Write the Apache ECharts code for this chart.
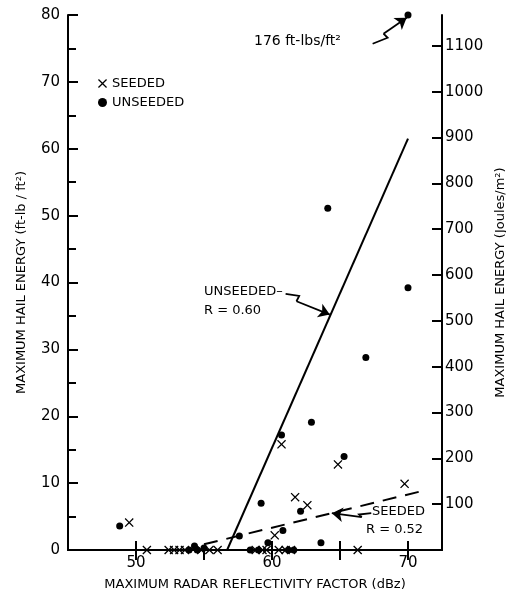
<!DOCTYPE html>
<html>
<head>
<meta charset="utf-8">
<script src="https://cdn.jsdelivr.net/npm/echarts@6/dist/echarts.min.js"></script>
<style>
html,body{margin:0;padding:0;background:#fff;}
#c{width:506px;height:593px;}
</style>
</head>
<body>
<div id="c"></div>
<script>
// ---- data ----
const seededX = [49.5, 60.7, 64.85, 69.75, 61.7, 62.6, 60.2, 50.8, 52.4, 52.8, 53.2, 53.6, 54.8, 55.4, 56.0, 58.8, 59.3, 59.6, 60.5, 61.0, 61.4, 66.3];
const seededY = [4.1, 15.8, 12.8, 9.9, 7.9, 6.7, 2.2, 0, 0, 0, 0, 0, 0, 0, 0, 0, 0, 0, 0, 0, 0, 0];
// the point at (70, 80) is the 176 ft-lbs/ft2 case drawn at the top edge
const unseededX = [70, 64.1, 70, 66.9, 62.9, 60.7, 65.3, 59.2, 62.1, 48.8, 57.6, 60.8, 63.6, 59.7, 54.3, 55.0, 53.9, 54.5, 58.4, 59.0, 61.2, 61.6];
const unseededY = [80, 51.1, 39.2, 28.8, 19.1, 17.2, 14.0, 7.0, 5.8, 3.6, 2.1, 2.9, 1.1, 1.1, 0.6, 0.3, 0, 0, 0, 0, 0, 0];
// regression lines (end points)
const unseededFitX = [56.7, 70];
const unseededFitY = [0, 61.5];
const seededFitX = [55.0, 71.0];
const seededFitY = [0.85, 8.8];
// tick labels
const xLabelTicks = [50, 60, 70];
const xBottomTicks = [50, 60, 65, 70];
const xTopTicks = [50, 55, 60, 65, 70];
const joulesTicks = [100, 200, 300, 400, 500, 600, 700, 800, 900, 1000, 1100];
const FT_TO_J = 14.5939;
// annotation pointers (data coords): zigzag part, then the arrow leg
const zig176 = [[67.4, 75.7], [68.5, 76.6], [68.2, 77.2]];
const leg176 = [[68.2, 77.2], [69.9, 79.6]];
const zigUnseeded = [[61.0, 38.3], [62.0, 38.0], [61.8, 37.2]];
const legUnseeded = [[61.8, 37.2], [64.25, 35.2]];
const zigSeeded = [[67.3, 5.5], [66.4, 5.3], [66.6, 4.9]];
const legSeeded = [[66.6, 4.9], [64.4, 5.5]];

const F = 'DejaVu Sans';
const xPath = 'path://M0,1L1,0L5,4L9,0L10,1L6,5L10,9L9,10L5,6L1,10L0,9L4,5Z';
const zip = (a, b) => a.map((v, i) => [v, b[i]]);

const chart = echarts.init(document.getElementById('c'));
const axisLine = {show: true, lineStyle: {color: '#000', width: 2}};
chart.setOption({
  animation: false,
  backgroundColor: '#fff',
  grid: {left: 68, right: 64, top: 15, bottom: 43, containLabel: false, outerBoundsMode: 'none'},
  legend: {
    orient: 'vertical', left: 93, top: 72, itemGap: 6, itemWidth: 9, itemHeight: 9,
    textStyle: {fontFamily: F, fontSize: 13, color: '#000'},
    data: [
      {name: 'SEEDED', icon: xPath},
      {name: 'UNSEEDED', icon: 'circle'}
    ]
  },
  xAxis: [{
    type: 'value', min: 45, max: 72.5, position: 'bottom',
    name: 'MAXIMUM RADAR REFLECTIVITY FACTOR (dBz)', nameLocation: 'middle', nameGap: 28,
    nameTextStyle: {fontFamily: F, fontSize: 13, color: '#000'},
    axisLine: axisLine,
    axisTick: {show: true, inside: true, length: 9, customValues: xBottomTicks, lineStyle: {color: '#000', width: 2}},
    axisLabel: {customValues: xLabelTicks, fontFamily: F, fontSize: 15, color: '#000', margin: 6},
    splitLine: {show: false}
  }, {
    type: 'value', min: 45, max: 72.5, position: 'top',
    axisLine: axisLine,
    axisTick: {show: true, inside: true, length: 10, customValues: xTopTicks, lineStyle: {color: '#000', width: 2}},
    axisLabel: {show: false},
    splitLine: {show: false}
  }],
  yAxis: [{
    type: 'value', min: 0, max: 80, interval: 10, position: 'left',
    name: 'MAXIMUM HAIL ENERGY (ft-lb / ft²)', nameLocation: 'middle', nameGap: 40,
    nameTextStyle: {fontFamily: F, fontSize: 13, color: '#000'},
    axisLine: axisLine,
    axisTick: {show: true, inside: true, length: 10, lineStyle: {color: '#000', width: 2}},
    minorTick: {show: true, splitNumber: 2, length: 8, lineStyle: {color: '#000', width: 2}},
    axisLabel: {fontFamily: F, fontSize: 15, color: '#000', margin: 8},
    splitLine: {show: false}, minorSplitLine: {show: false}
  }, {
    type: 'value', min: 0, max: 80 * FT_TO_J, position: 'right',
    name: 'MAXIMUM HAIL ENERGY (Joules/m²)', nameLocation: 'middle', nameGap: 42, nameRotate: 90,
    nameTextStyle: {fontFamily: F, fontSize: 13, color: '#000'},
    axisLine: axisLine,
    axisTick: {show: true, inside: true, length: 10, customValues: joulesTicks, lineStyle: {color: '#000', width: 2}},
    axisLabel: {customValues: joulesTicks, formatter: v => String(Math.round(v)), fontFamily: F, fontSize: 15, color: '#000', margin: 3},
    splitLine: {show: false}
  }],
  series: [{
    name: 'SEEDED', type: 'scatter', clip: false, symbol: xPath, symbolSize: 9,
    itemStyle: {color: '#000', opacity: 1}, data: zip(seededX, seededY), z: 5
  }, {
    name: 'UNSEEDED', type: 'scatter', clip: false, symbol: 'circle', symbolSize: 7,
    itemStyle: {color: '#000', opacity: 1}, data: zip(unseededX, unseededY), z: 5
  }, {
    name: 'unseeded fit', type: 'line', symbol: 'none', silent: true,
    lineStyle: {color: '#000', width: 2}, data: zip(unseededFitX, unseededFitY)
  }, {
    name: 'seeded fit', type: 'line', symbol: 'none', silent: true,
    lineStyle: {color: '#000', width: 2, type: [14, 9]}, data: zip(seededFitX, seededFitY)
  }, {
    type: 'lines', coordinateSystem: 'cartesian2d', polyline: true, silent: true,
    lineStyle: {color: '#000', width: 1.8, opacity: 1},
    data: [{coords: zig176}, {coords: zigUnseeded}, {coords: zigSeeded}]
  }, {
    type: 'lines', coordinateSystem: 'cartesian2d', silent: true,
    symbol: ['none', 'arrow'], symbolSize: [6, 11],
    lineStyle: {color: '#000', width: 1.8, opacity: 1},
    data: [{coords: leg176}, {coords: legUnseeded}, {coords: legSeeded}]
  }],
  graphic: [
    {type: 'text', left: 254, top: 34, style: {text: '176 ft-lbs/ft²', font: '14px ' + F, fill: '#000'}},
    {type: 'text', left: 204, top: 285, style: {text: 'UNSEEDED–', font: '13px ' + F, fill: '#000'}},
    {type: 'text', left: 204, top: 304, style: {text: 'R = 0.60', font: '13px ' + F, fill: '#000'}},
    {type: 'text', left: 372, top: 505, style: {text: 'SEEDED', font: '13px ' + F, fill: '#000'}},
    {type: 'text', left: 366, top: 523, style: {text: 'R = 0.52', font: '13px ' + F, fill: '#000'}}
  ]
});
</script>
</body>
</html>
